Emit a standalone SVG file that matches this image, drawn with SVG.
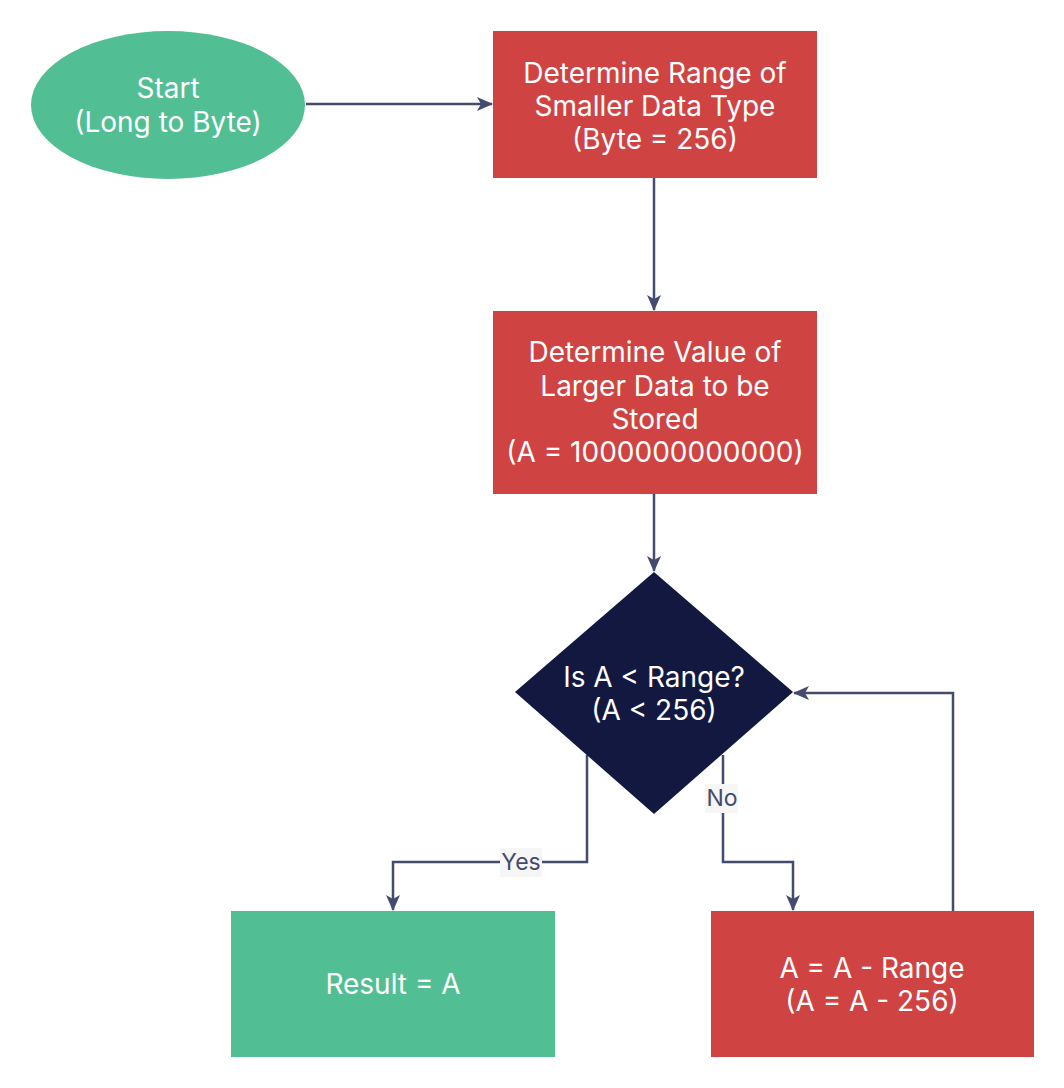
<svg xmlns="http://www.w3.org/2000/svg" width="1064" height="1088" viewBox="0 0 1064 1088">
<style>
.t{font-family:Inter,"Liberation Sans",sans-serif;font-size:28px;fill:#ffffff;text-anchor:middle}
.lbl{font-family:Inter,"Liberation Sans",sans-serif;font-size:23px;fill:#444B6E;text-anchor:middle}
.c{fill:none;stroke:#444B6E;stroke-width:2.5}
.g{fill:#52BE94}
.r{fill:#D04343}
</style>
<defs>
<marker id="a" viewBox="0 0 16 14" refX="15" refY="7" markerWidth="16" markerHeight="14" markerUnits="userSpaceOnUse" orient="auto">
<path d="M0,0 L16,7 L0,14 L4,7 Z" fill="#444B6E"/>
</marker>
</defs>
<rect width="1064" height="1088" fill="#ffffff"/>
<g id="connectors">
<path class="c" d="M306,104 L492,104" marker-end="url(#a)"/>
<path class="c" d="M654,178 L654,310" marker-end="url(#a)"/>
<path class="c" d="M654,494 L654,571" marker-end="url(#a)"/>
<path class="c" d="M587,755 L587,862 L393,862 L393,910" marker-end="url(#a)"/>
<path class="c" d="M723,755 L723,862 L793,862 L793,910" marker-end="url(#a)"/>
<path class="c" d="M953,911 L953,693 L794,693" marker-end="url(#a)"/>
<rect x="500" y="848" width="42" height="29" fill="#f6f6f6"/>
<text class="lbl" x="521" y="870">Yes</text>
<rect x="705" y="784" width="33" height="29" fill="#f6f6f6"/>
<text class="lbl" x="722" y="806">No</text>
</g>
<g id="start">
<ellipse class="g" cx="168" cy="105" rx="137" ry="74"/>
<text class="t" x="168" y="98">Start</text>
<text class="t" x="168" y="132">(Long to Byte)</text>
</g>
<g id="range">
<rect class="r" x="493" y="31" width="324" height="147"/>
<text class="t" x="655" y="83">Determine Range of</text>
<text class="t" x="655" y="116">Smaller Data Type</text>
<text class="t" x="655" y="149">(Byte = 256)</text>
</g>
<g id="value">
<rect class="r" x="493" y="311" width="324" height="183"/>
<text class="t" x="655" y="362">Determine Value of</text>
<text class="t" x="655" y="396">Larger Data to be</text>
<text class="t" x="655" y="429">Stored</text>
<text class="t" x="655" y="462">(A = 1000000000000)</text>
</g>
<g id="decision">
<path d="M654,572 L793,692 L654,814 L515,692 Z" fill="#12183F"/>
<text class="t" x="654" y="687">Is A &lt; Range?</text>
<text class="t" x="654" y="720">(A &lt; 256)</text>
</g>
<g id="result">
<rect class="g" x="231" y="911" width="324" height="146"/>
<text class="t" x="393" y="994">Result = A</text>
</g>
<g id="subtract">
<rect class="r" x="711" y="911" width="323" height="146"/>
<text class="t" x="872" y="978">A = A - Range</text>
<text class="t" x="872" y="1011">(A = A - 256)</text>
</g>
</svg>
